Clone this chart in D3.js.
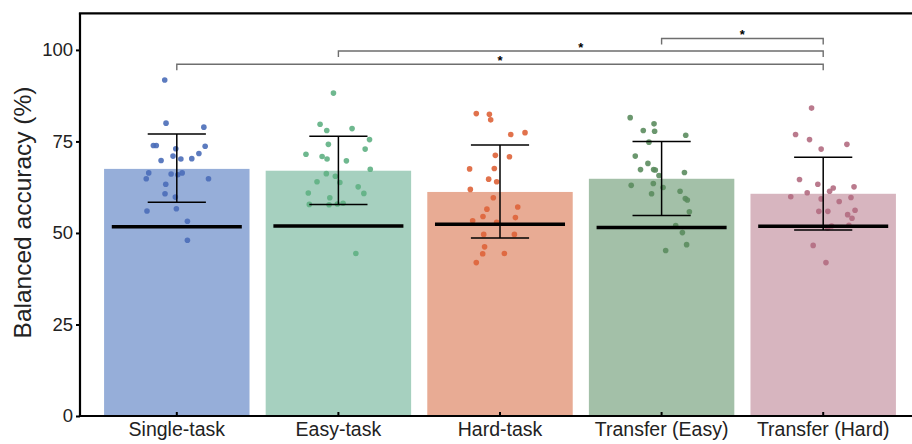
<!DOCTYPE html>
<html>
<head>
<meta charset="utf-8">
<script src="https://cdn.jsdelivr.net/npm/d3@7/dist/d3.min.js"></script>
<style>
  html, body { margin: 0; padding: 0; background: #fff; }
  svg { display: block; font-family: "Liberation Sans", Arial, Helvetica, sans-serif; }
</style>
</head>
<body>
<svg id="chart" width="912" height="444"></svg>
<script>
// Conditions on the x axis
const categories = ["Single-task", "Easy-task", "Hard-task", "Transfer (Easy)", "Transfer (Hard)"];

// Mean balanced accuracy per condition (%)
const means = [67.5, 67.0, 61.2, 64.8, 60.7];
// Error bar extents (%)
const errLow  = [58.4, 57.8, 48.6, 54.8, 50.8];
const errHigh = [77.0, 76.4, 74.0, 75.0, 70.7];
// Chance level per condition (%)
const chance = [51.7, 51.9, 52.4, 51.5, 51.8];

// Per-subject accuracies (%)
const singleTask = [91.8, 80.0, 78.9, 73.9, 73.9, 73.0, 73.7, 71.0, 69.8, 70.2, 70.3, 71.7, 66.4, 64.8, 66.1, 65.9, 66.4, 64.8, 63.3, 60.7, 59.8, 56.0, 56.6, 53.2, 48.0];
const easyTask   = [88.2, 79.7, 78.0, 78.5, 75.5, 74.2, 72.9, 71.5, 70.9, 70.2, 69.7, 67.4, 66.2, 65.5, 64.0, 63.8, 62.6, 60.9, 60.8, 59.6, 57.8, 57.7, 57.9, 58.1, 44.4];
const hardTask   = [82.6, 82.4, 80.9, 76.9, 77.4, 71.2, 70.8, 67.5, 67.6, 64.7, 64.0, 61.9, 59.6, 57.1, 56.5, 54.5, 54.2, 53.3, 52.9, 49.6, 49.6, 46.2, 44.3, 44.4, 41.9];
const transferEasy = [81.5, 79.8, 78.0, 77.8, 76.7, 74.8, 71.0, 69.0, 67.3, 67.3, 67.2, 66.5, 65.7, 63.0, 63.5, 62.4, 61.4, 60.7, 59.4, 59.0, 55.8, 52.0, 50.1, 46.8, 45.2];
const transferHard = [84.1, 76.9, 75.5, 74.2, 72.9, 64.6, 63.3, 62.3, 62.6, 61.4, 61.0, 59.9, 59.7, 59.3, 58.6, 55.9, 55.9, 56.2, 55.0, 54.0, 51.9, 52.1, 51.3, 46.6, 41.9];
const subjects = [singleTask, easyTask, hardTask, transferEasy, transferHard];

// Horizontal jitter of each subject dot, as a fraction of the bar width
const jitterSingle = [-0.083, -0.074, 0.186, -0.161, -0.141, -0.007, 0.195, -0.026, -0.108, 0.028, 0.103, 0.152, -0.193, -0.210, -0.039, 0.007, 0.037, 0.218, -0.076, -0.081, -0.010, -0.205, -0.003, 0.073, 0.073];
const jitterEasy   = [-0.034, -0.126, -0.080, 0.094, 0.214, -0.069, 0.184, -0.223, -0.112, -0.078, 0.055, 0.219, -0.083, -0.021, -0.147, 0.010, 0.136, -0.207, 0.175, -0.059, -0.200, -0.064, -0.007, 0.032, 0.120];
const jitterHard   = [-0.163, -0.073, -0.064, 0.074, 0.172, -0.032, 0.065, -0.209, -0.039, -0.078, -0.023, -0.204, -0.046, 0.122, -0.090, -0.117, 0.106, -0.188, -0.023, -0.112, 0.099, -0.106, -0.119, 0.030, -0.163];
const jitterTEasy  = [-0.216, -0.052, -0.126, -0.048, 0.166, -0.087, -0.181, -0.094, -0.145, -0.055, -0.043, 0.157, -0.018, -0.209, -0.057, 0.010, 0.127, -0.069, 0.163, 0.177, 0.191, 0.097, 0.143, 0.172, 0.028];
const jitterTHard  = [-0.080, -0.190, -0.094, 0.163, -0.014, -0.163, -0.037, 0.069, 0.212, 0.044, -0.110, -0.223, 0.191, -0.014, 0.110, -0.030, 0.032, 0.219, 0.168, 0.198, 0.058, 0.177, 0.030, -0.069, 0.019];
const jitters = [jitterSingle, jitterEasy, jitterHard, jitterTEasy, jitterTHard];

// Significance comparisons: [from, to, bracket height (%)]
const sigFrom   = ["Single-task", "Easy-task", "Transfer (Easy)"];
const sigTo     = ["Transfer (Hard)", "Transfer (Hard)", "Transfer (Hard)"];
const sigLevel  = [96.1, 99.7, 103.1];
const sigLabel  = ["*", "*", "*"];

const yTicks = [0, 25, 50, 75, 100];

const barColors = ["#96aed9", "#a6d0bf", "#e8ab94", "#a3c0a8", "#d7b5bf"];
const dotColors = ["#4a6db8", "#5fb083", "#de6339", "#5b8c5e", "#b26b81"];

const svg = d3.select("#chart");
const W = 912, H = 444;
const margin = { left: 80, right: 0, top: 13.3, bottom: 28 };
const plotBottom = H - margin.bottom;

const x = d3.scaleBand()
  .domain(categories)
  .range([96, 904])
  .paddingInner(0.1)
  .paddingOuter(0.05);

const y = d3.scaleLinear()
  .domain([0, 110])
  .range([plotBottom, margin.top]);

const bw = x.bandwidth();
const cx = c => x(c) + bw / 2;
const jit = d3.scaleLinear().domain([-0.5, 0.5]).range([-bw / 2, bw / 2]);

const rows = categories.map((c, i) => ({
  cat: c, mean: means[i], lo: errLow[i], hi: errHigh[i], chance: chance[i],
  bar: barColors[i], dot: dotColors[i]
}));

// Bars
svg.append("g").selectAll("rect")
  .data(rows).join("rect")
  .attr("x", d => x(d.cat))
  .attr("width", bw)
  .attr("y", d => y(d.mean))
  .attr("height", d => y(0) - y(d.mean))
  .attr("fill", d => d.bar);

// Subject dots
const dots = [];
categories.forEach((c, i) => {
  subjects[i].forEach((v, j) => dots.push({ cat: c, v, j: jitters[i][j], color: dotColors[i] }));
});
svg.append("g").selectAll("circle")
  .data(dots).join("circle")
  .attr("cx", d => cx(d.cat) + jit(d.j))
  .attr("cy", d => y(d.v))
  .attr("r", 2.8)
  .attr("fill", d => d.color)
  .attr("fill-opacity", 0.9);

// Error bars
const capHalf = bw * 0.2;
const eb = svg.append("g").attr("stroke", "#000").attr("stroke-width", 1.5).attr("fill", "none");
eb.selectAll("line.v").data(rows).join("line").attr("class", "v")
  .attr("x1", d => cx(d.cat)).attr("x2", d => cx(d.cat))
  .attr("y1", d => y(d.lo)).attr("y2", d => y(d.hi));
eb.selectAll("line.t").data(rows).join("line").attr("class", "t")
  .attr("x1", d => cx(d.cat) - capHalf).attr("x2", d => cx(d.cat) + capHalf)
  .attr("y1", d => y(d.hi)).attr("y2", d => y(d.hi));
eb.selectAll("line.b").data(rows).join("line").attr("class", "b")
  .attr("x1", d => cx(d.cat) - capHalf).attr("x2", d => cx(d.cat) + capHalf)
  .attr("y1", d => y(d.lo)).attr("y2", d => y(d.lo));

// Chance level lines
const chanceHalf = bw * 0.447;
svg.append("g").selectAll("line")
  .data(rows).join("line")
  .attr("x1", d => cx(d.cat) - chanceHalf)
  .attr("x2", d => cx(d.cat) + chanceHalf)
  .attr("y1", d => y(d.chance)).attr("y2", d => y(d.chance))
  .attr("stroke", "#000").attr("stroke-width", 3.5);

// Significance brackets
const sig = sigFrom.map((f, i) => ({ from: f, to: sigTo[i], level: sigLevel[i], label: sigLabel[i] }));
const drop = 1.65;
const sg = svg.append("g");
sg.selectAll("path").data(sig).join("path")
  .attr("d", d => {
    const x1 = cx(d.from), x2 = cx(d.to);
    const yt = y(d.level), yb = y(d.level - drop);
    return `M${x1},${yb}V${yt}H${x2}V${yb}`;
  })
  .attr("fill", "none").attr("stroke", "#6e6e6e").attr("stroke-width", 1.4);
sg.selectAll("text").data(sig).join("text")
  .attr("x", d => (cx(d.from) + cx(d.to)) / 2)
  .attr("y", d => y(d.level) + 0.5)
  .attr("text-anchor", "middle")
  .attr("font-size", 13)
  .attr("font-weight", "bold")
  .attr("fill", "#000")
  .text(d => d.label);

// Y axis
const yAxis = d3.axisLeft(y).tickValues(yTicks).tickSize(4).tickPadding(3);
const yg = svg.append("g").attr("transform", `translate(${margin.left},0)`).call(yAxis);
yg.select(".domain").remove();
yg.selectAll(".tick line").attr("stroke", "#000").attr("stroke-width", 2);
yg.selectAll(".tick text").attr("font-size", 18.5).attr("fill", "#222")
  .style("font-family", "'Liberation Sans', Arial, sans-serif");

// X axis (ticks point inward)
const xAxis = d3.axisBottom(x).tickSize(-4).tickPadding(10);
const xg = svg.append("g").attr("transform", `translate(0,${plotBottom})`).call(xAxis);
xg.select(".domain").remove();
xg.selectAll(".tick line").attr("stroke", "#000").attr("stroke-width", 2);
xg.selectAll(".tick text").attr("font-size", 19.5).attr("fill", "#222")
  .attr("y", 19.5).attr("dy", 0)
  .style("font-family", "'Liberation Sans', Arial, sans-serif");

// Frame: left, bottom and top spines
const spine = svg.append("g").attr("stroke", "#000").attr("stroke-width", 2.2);
spine.append("line").attr("x1", margin.left).attr("x2", margin.left)
  .attr("y1", y(110)).attr("y2", y(0));
spine.append("line").attr("x1", margin.left - 1.1).attr("x2", W)
  .attr("y1", y(0)).attr("y2", y(0));
spine.append("line").attr("x1", margin.left - 1.1).attr("x2", W)
  .attr("y1", y(110)).attr("y2", y(110));

// Y axis title
svg.append("text")
  .attr("transform", `translate(31,${212.5}) rotate(-90)`)
  .attr("text-anchor", "middle")
  .attr("font-size", 24.5)
  .attr("fill", "#222")
  .text("Balanced accuracy (%)");
</script>
</body>
</html>
